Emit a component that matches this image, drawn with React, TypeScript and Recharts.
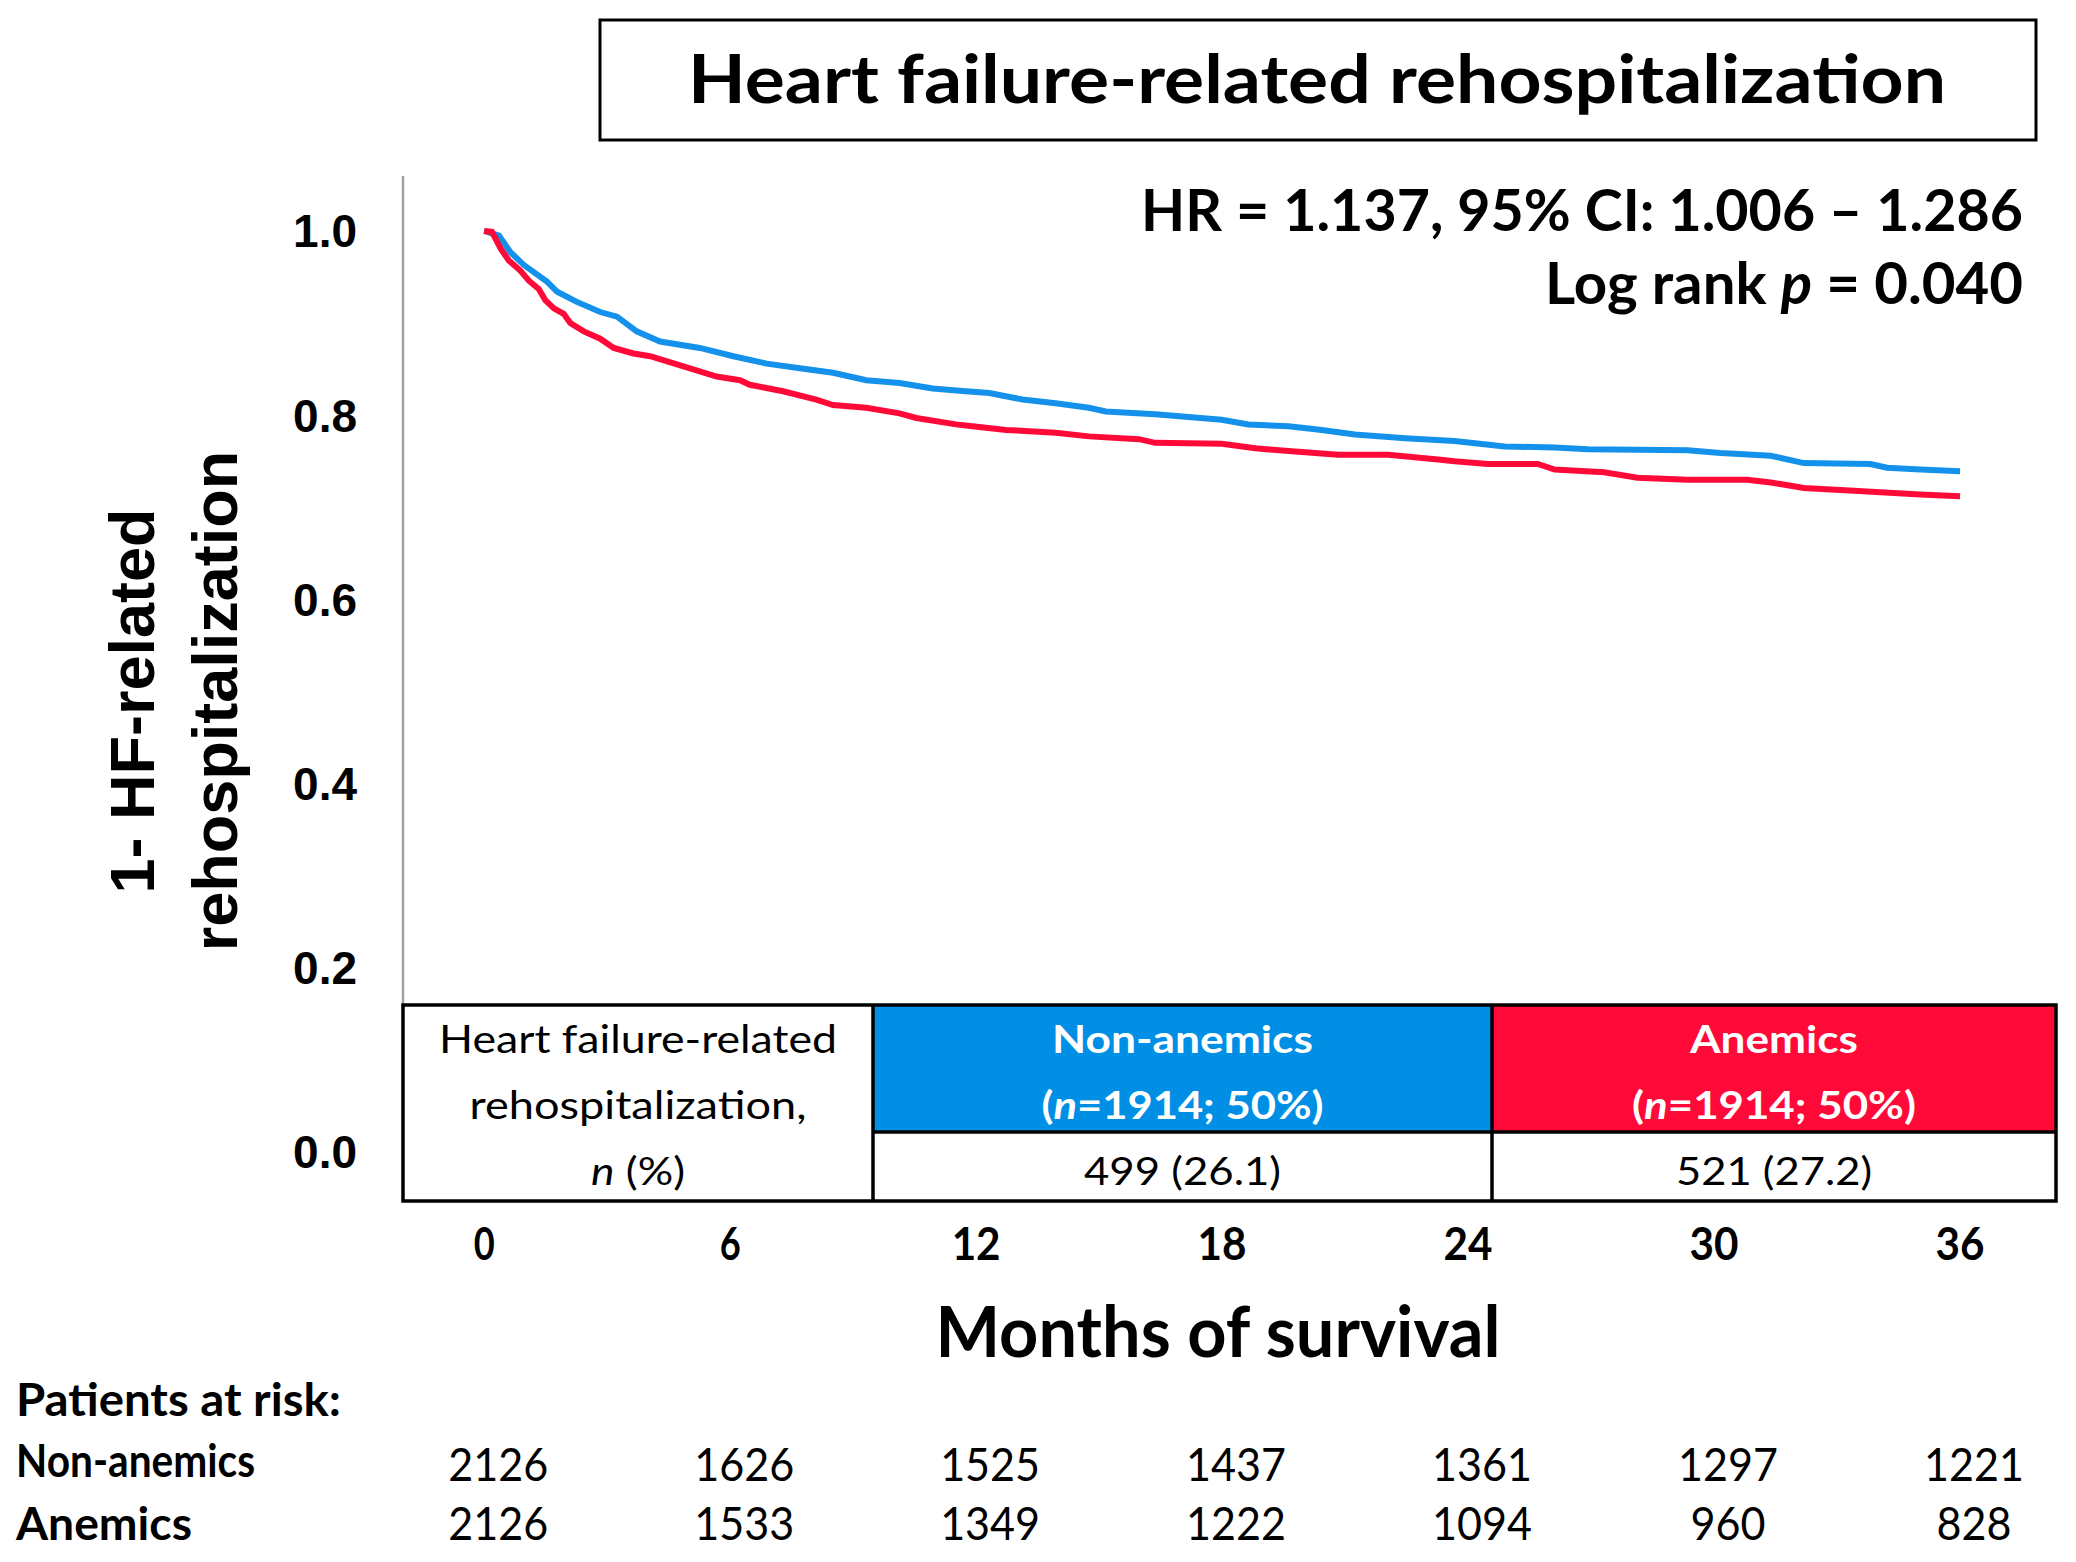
import React from "react";
import { LineChart, Line, XAxis, YAxis } from "recharts";

// ---- data ----
const months = [0, 6, 12, 18, 24, 30, 36];
const yTicks = [0, 0.2, 0.4, 0.6, 0.8, 1.0];

const nonAnemicT = [0, 0.36, 0.64, 0.97, 1.53, 1.78, 2.26, 2.83, 3.24, 3.72, 4.29, 5.26, 6.08, 6.89, 7.7, 8.51, 9.32, 10.13, 10.94, 11.75, 12.32, 13.13, 13.94, 14.75, 15.16, 16.37, 17.99, 18.64, 19.62, 20.43, 21.24, 22.46, 23.67, 24.89, 26.11, 26.92, 29.35, 30.16, 31.38, 32.19, 33.81, 34.22, 35.03, 36.0];
const nonAnemicV = [1.0, 0.995, 0.977, 0.963, 0.945, 0.934, 0.923, 0.912, 0.907, 0.891, 0.88, 0.873, 0.864, 0.856, 0.851, 0.846, 0.838, 0.835, 0.829, 0.826, 0.824, 0.817, 0.813, 0.808, 0.804, 0.801, 0.795, 0.79, 0.788, 0.784, 0.779, 0.775, 0.772, 0.766, 0.765, 0.763, 0.762, 0.759, 0.756, 0.748, 0.747, 0.743, 0.741, 0.739];

const anemicT = [0, 0.19, 0.4, 0.6, 0.88, 1.09, 1.33, 1.49, 1.7, 1.94, 2.1, 2.43, 2.83, 3.16, 3.64, 4.05, 4.86, 5.67, 6.24, 6.48, 7.29, 8.1, 8.51, 9.32, 10.13, 10.54, 11.51, 11.91, 12.73, 13.94, 14.75, 15.97, 16.37, 17.99, 18.81, 19.62, 20.83, 22.05, 23.27, 23.67, 24.48, 25.7, 26.11, 27.32, 28.13, 29.35, 30.81, 31.38, 32.19, 33.41, 35.03, 36.0];
const anemicV = [1.0, 0.999, 0.981, 0.968, 0.957, 0.946, 0.937, 0.925, 0.916, 0.91, 0.9, 0.891, 0.883, 0.873, 0.867, 0.864, 0.853, 0.842, 0.838, 0.833, 0.826, 0.817, 0.811, 0.808, 0.802, 0.797, 0.79, 0.788, 0.784, 0.781, 0.777, 0.774, 0.77, 0.769, 0.764, 0.761, 0.757, 0.757, 0.752, 0.75, 0.747, 0.747, 0.741, 0.738, 0.732, 0.73, 0.73, 0.727, 0.721, 0.718, 0.714, 0.712];

const riskNonAnemic = [2126, 1626, 1525, 1437, 1361, 1297, 1221];
const riskAnemic = [2126, 1533, 1349, 1222, 1094, 960, 828];

const eventsNonAnemic = "499 (26.1)";
const eventsAnemic = "521 (27.2)";
const groupN = "1914; 50%";

// ---- layout ----
const W = 2076;
const H = 1562;
const PLOT = { left: 403, right: 2056, top: 176, bottom: 1201 };
const X_DOMAIN: [number, number] = [-1.98, 38.34];
const Y_DOMAIN: [number, number] = [-0.0532, 1.0597];
const Y_AXIS_W = 100;
const X_AXIS_H = 60;

const BLUE = "#1491EA";
const BLUE_FILL = "#008FE5";
const RED = "#FF0A38";
const CAL = "Lato, 'Open Sans', sans-serif";
const ARIAL = "'Liberation Sans', Arial, sans-serif";

const xPx = (t: number) =>
  PLOT.left + ((t - X_DOMAIN[0]) / (X_DOMAIN[1] - X_DOMAIN[0])) * (PLOT.right - PLOT.left);

const nonAnemicData = nonAnemicT.map((t, i) => ({ t, v: nonAnemicV[i] }));
const anemicData = anemicT.map((t, i) => ({ t, v: anemicV[i] }));

function Txt({
  x, y, w, size, bold = false, anchor = "middle", fill = "#000", children,
}: {
  x: number; y: number; w?: number; size: number; bold?: boolean;
  anchor?: "start" | "middle" | "end"; fill?: string; children: React.ReactNode;
}) {
  return (
    <text
      x={x}
      y={y}
      textAnchor={anchor}
      fontSize={size}
      fontWeight={bold ? 700 : 400}
      fontFamily={CAL}
      fill={fill}
      textLength={w}
      lengthAdjust={w ? "spacingAndGlyphs" : undefined}
    >
      {children}
    </text>
  );
}

const XTick = (props: any) => {
  const { x, y, payload } = props;
  const label = String(payload.value);
  return (
    <text
      x={x}
      y={y + 59}
      textAnchor="middle"
      fontFamily={CAL}
      fontWeight={700}
      fontSize={46}
      textLength={label.length > 1 ? 49 : 21}
      lengthAdjust="spacingAndGlyphs"
    >
      {label}
    </text>
  );
};

export default function App() {
  const col1 = 873;
  const col2 = 1492;
  const tTop = 1005;
  const tMid = 1132;
  const tBot = PLOT.bottom;
  const c1 = (PLOT.left + col1) / 2;
  const c2 = (col1 + col2) / 2;
  const c3 = (col2 + PLOT.right) / 2;

  return (
    <div style={{ position: "absolute", left: 0, top: 0, width: W, height: H, background: "#fff" }}>
      <div style={{ position: "absolute", left: 0, top: 0 }}>
        <LineChart
          width={W}
          height={H}
          margin={{
            top: PLOT.top,
            right: W - PLOT.right,
            bottom: H - PLOT.bottom - X_AXIS_H,
            left: PLOT.left - Y_AXIS_W,
          }}
        >
          <XAxis
            dataKey="t"
            type="number"
            domain={X_DOMAIN}
            ticks={months}
            allowDataOverflow
            axisLine={false}
            tickLine={false}
            tickSize={0}
            tickMargin={0}
            height={X_AXIS_H}
            tick={<XTick />}
            interval={0}
          />
          <YAxis
            type="number"
            domain={Y_DOMAIN}
            ticks={yTicks}
            allowDataOverflow
            width={Y_AXIS_W}
            axisLine={{ stroke: "#A3A3A3", strokeWidth: 2.5 }}
            tickLine={false}
            tickSize={0}
            tickMargin={46}
            tickFormatter={(v: number) => v.toFixed(1)}
            tick={{ fill: "#000", fontSize: 46, fontWeight: 700, fontFamily: ARIAL }}
            interval={0}
          />
          <Line
            data={nonAnemicData}
            dataKey="v"
            type="linear"
            stroke={BLUE}
            strokeWidth={6}
            dot={false}
            isAnimationActive={false}
          />
          <Line
            data={anemicData}
            dataKey="v"
            type="linear"
            stroke={RED}
            strokeWidth={6}
            dot={false}
            isAnimationActive={false}
          />
        </LineChart>
      </div>

      <svg
        width={W}
        height={H}
        style={{ position: "absolute", left: 0, top: 0, pointerEvents: "none" }}
      >
        {/* title box */}
        <rect x={600} y={20} width={1436} height={120} fill="#fff" stroke="#000" strokeWidth={3} />
        <Txt x={1317} y={103} w={1258} size={66} bold>
          Heart failure-related rehospitalization
        </Txt>

        {/* statistics */}
        <Txt x={2023} y={231} w={882} size={57} bold anchor="end">
          HR = 1.137, 95% CI: 1.006 – 1.286
        </Txt>
        <Txt x={2023} y={304} w={478} size={57} bold anchor="end">
          Log rank <tspan fontStyle="italic">p</tspan> = 0.040
        </Txt>

        {/* y axis title */}
        <g fontFamily={ARIAL} fontWeight={700} fontSize={63} fill="#000" textAnchor="middle">
          <text transform="translate(154,701) rotate(-90)">1- HF-related</text>
          <text transform="translate(237,701) rotate(-90)">rehospitalization</text>
        </g>

        {/* events table */}
        <rect x={PLOT.left} y={tTop} width={col1 - PLOT.left} height={tBot - tTop} fill="#fff" />
        <rect x={col1} y={tTop} width={col2 - col1} height={tMid - tTop} fill={BLUE_FILL} />
        <rect x={col2} y={tTop} width={PLOT.right - col2} height={tMid - tTop} fill={RED} />
        <rect x={col1} y={tMid} width={PLOT.right - col1} height={tBot - tMid} fill="#fff" />
        <g stroke="#000" strokeWidth={3.5} fill="none">
          <rect x={PLOT.left} y={tTop} width={PLOT.right - PLOT.left} height={tBot - tTop} />
          <line x1={col1} y1={tTop} x2={col1} y2={tBot} />
          <line x1={col2} y1={tTop} x2={col2} y2={tBot} />
          <line x1={col1} y1={tMid} x2={PLOT.right} y2={tMid} />
        </g>
        <Txt x={c1} y={1053} w={398} size={38}>Heart failure-related</Txt>
        <Txt x={c1} y={1119} w={337} size={38}>rehospitalization,</Txt>
        <Txt x={c1} y={1185} w={94} size={38}>
          <tspan fontStyle="italic">n</tspan> (%)
        </Txt>

        <Txt x={c2} y={1053} w={261} size={38} bold fill="#fff">Non-anemics</Txt>
        <Txt x={c2} y={1119} w={282} size={38} bold fill="#fff">
          (<tspan fontStyle="italic">n</tspan>={groupN})
        </Txt>
        <Txt x={c2} y={1185} w={197} size={38}>{eventsNonAnemic}</Txt>

        <Txt x={c3} y={1053} w={168} size={38} bold fill="#fff">Anemics</Txt>
        <Txt x={c3} y={1119} w={284} size={38} bold fill="#fff">
          (<tspan fontStyle="italic">n</tspan>={groupN})
        </Txt>
        <Txt x={c3} y={1185} w={196} size={38}>{eventsAnemic}</Txt>

        {/* x axis title */}
        <Txt x={1218} y={1357} w={565} size={70} bold>Months of survival</Txt>

        {/* patients at risk */}
        <Txt x={16} y={1416} w={325} size={46} bold anchor="start">Patients at risk:</Txt>
        <Txt x={16} y={1477} w={239} size={46} bold anchor="start">Non-anemics</Txt>
        <Txt x={16} y={1540} w={176} size={46} bold anchor="start">Anemics</Txt>
        {months.map((m, i) => (
          <Txt key={"na" + m} x={xPx(m) + 14} y={1481} w={String(riskNonAnemic[i]).length * 25} size={46}>
            {riskNonAnemic[i]}
          </Txt>
        ))}
        {months.map((m, i) => (
          <Txt key={"a" + m} x={xPx(m) + 14} y={1540} w={String(riskAnemic[i]).length * 25} size={46}>
            {riskAnemic[i]}
          </Txt>
        ))}
      </svg>
    </div>
  );
}
